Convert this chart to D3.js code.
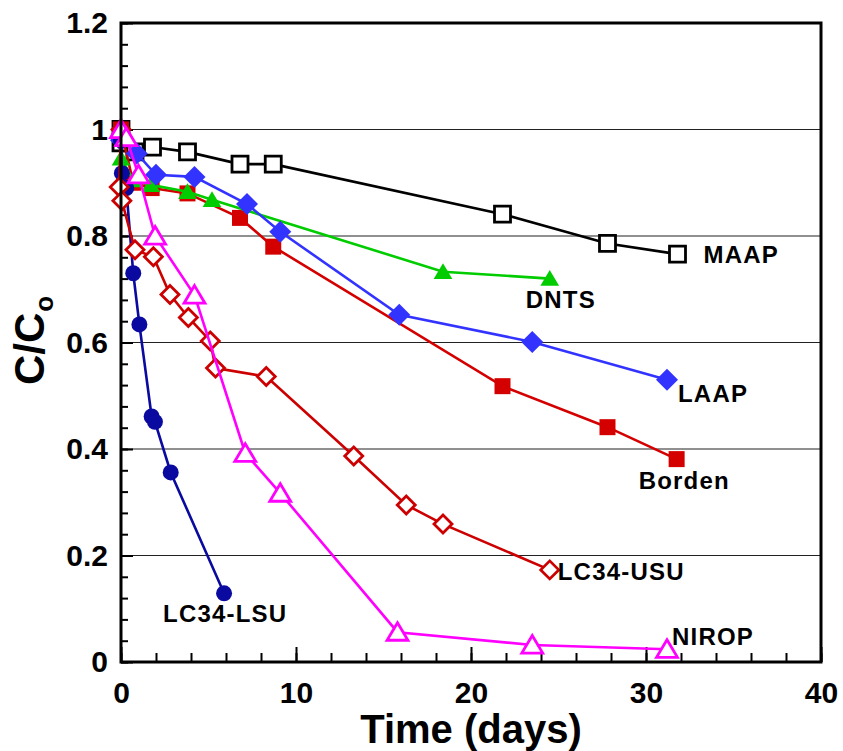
<!DOCTYPE html>
<html>
<head>
<meta charset="utf-8">
<title>C/Co vs time</title>
<script src="https://d3js.org/d3.v7.min.js"></script>
<style>
  body { margin: 0; background: #fff; }
  svg text { font-family: "Liberation Sans", Arial, sans-serif; font-weight: bold; }
  .tick-label { font-size: 30px; }
  .series-label { font-size: 24px; letter-spacing: 1.2px; }
</style>
</head>
<body>
<div id="chart"></div>
<script>
// ---- data (time in days, C/Co) ----
var maapT   = [0, 0, 0.8, 1.8, 3.8, 6.8, 8.7, 21.8, 27.8, 31.8];
var maapC   = [1.0, 0.975, 0.958, 0.967, 0.958, 0.935, 0.935, 0.841, 0.786, 0.766];

var bordenT = [0, 0.7, 1.75, 3.8, 6.8, 8.7, 21.8, 27.8, 31.75];
var bordenC = [1.0, 0.90, 0.890, 0.880, 0.834, 0.780, 0.518, 0.441, 0.381];

var dntsT   = [0, 0.7, 1.7, 3.8, 5.2, 18.4, 24.5];
var dntsC   = [0.946, 0.905, 0.896, 0.883, 0.868, 0.733, 0.720];

var laapT   = [0, 0.9, 2.0, 4.2, 7.2, 9.1, 15.9, 23.5, 31.2];
var laapC   = [0.98, 0.955, 0.915, 0.911, 0.860, 0.808, 0.652, 0.601, 0.530];

var lsuT    = [0, 0.05, 0.3, 0.7, 1.05, 1.75, 1.94, 2.84, 5.89];
var lsuC    = [0.98, 0.918, 0.890, 0.730, 0.634, 0.461, 0.451, 0.356, 0.129];

var usuT    = [0, -0.1, 0.05, 0.8, 1.85, 2.8, 3.85, 5.1, 5.4, 8.3, 13.3, 16.3, 18.4, 24.5];
var usuC    = [1.0, 0.892, 0.866, 0.774, 0.761, 0.690, 0.647, 0.603, 0.552, 0.536, 0.387, 0.295, 0.259, 0.173];

var niropT  = [0, 0.3, 1.0, 1.95, 4.2, 7.1, 9.1, 15.8, 23.5, 31.2];
var niropC  = [1.0, 0.985, 0.915, 0.800, 0.689, 0.392, 0.317, 0.056, 0.032, 0.024];

var xTicks = [0, 10, 20, 30, 40];
var yTicks = [0, 0.2, 0.4, 0.6, 0.8, 1, 1.2];
var gridY  = [0.2, 0.4, 0.6, 0.8, 1.0];

// series styling and label placement (pixel offsets from last point)
var seriesList = [
  {name: "MAAP",     t: maapT,   c: maapC,   color: "#000000", shape: "square",   fill: false, dx: 26,  dy: 9},
  {name: "Borden",   t: bordenT, c: bordenC, color: "#d40000", shape: "square",   fill: true,  dx: -38, dy: 30},
  {name: "DNTS",     t: dntsT,   c: dntsC,   color: "#00cc00", shape: "triangle", fill: true,  dx: -24, dy: 29},
  {name: "LAAP",     t: laapT,   c: laapC,   color: "#3333ff", shape: "diamond",  fill: true,  dx: 11,  dy: 22},
  {name: "LC34-LSU", t: lsuT,    c: lsuC,    color: "#0a0aa0", shape: "circle",   fill: true,  dx: -61, dy: 29},
  {name: "LC34-USU", t: usuT,    c: usuC,    color: "#cc0000", shape: "diamond",  fill: false, dx: 8,   dy: 10},
  {name: "NIROP",    t: niropT,  c: niropC,  color: "#ff00ff", shape: "triangle", fill: false, dx: 5,   dy: -4}
];

var W = 843, H = 751;
var margin = {top: 23, right: 22, bottom: 89, left: 121};
var width = W - margin.left - margin.right,
    height = H - margin.top - margin.bottom;

var x = d3.scaleLinear().domain([0, 40]).range([0, width]);
var y = d3.scaleLinear().domain([0, 1.2]).range([height, 0]);

var svg = d3.select("#chart").append("svg")
  .attr("width", W)
  .attr("height", H)
  .append("g")
  .attr("transform", "translate(" + margin.left + "," + margin.top + ")");

// grid lines
svg.append("g").selectAll("line")
  .data(gridY)
  .enter().append("line")
  .attr("x1", 0).attr("x2", width)
  .attr("y1", function(d) { return y(d); })
  .attr("y2", function(d) { return y(d); })
  .attr("stroke", "#222")
  .attr("stroke-width", 1.2);

// axes with inward ticks
var xAxis = d3.axisBottom(x).tickValues(xTicks).tickSize(-15).tickPadding(20)
  .tickFormat(d3.format("d"));
var xMinor = d3.axisBottom(x).tickValues(d3.range(0, 41, 2)).tickSize(-9).tickFormat("");
var yAxis = d3.axisLeft(y).tickValues(yTicks).tickSize(-12).tickPadding(13)
  .tickFormat(function(d) { return d3.format("~g")(d); });
var yMinor = d3.axisLeft(y).tickValues(d3.range(0, 31).map(function(i) { return i * 0.04; })).tickSize(-7).tickFormat("");

function styleAxis(g) {
  g.select(".domain").remove();
  g.selectAll("line").attr("stroke", "#000").attr("stroke-width", 2);
  g.selectAll("text").attr("class", "tick-label").attr("fill", "#000");
}

svg.append("g").attr("transform", "translate(0," + height + ")").call(xMinor).call(styleAxis);
svg.append("g").attr("transform", "translate(0," + height + ")").call(xAxis).call(styleAxis);
svg.append("g").call(yMinor).call(styleAxis);
svg.append("g").call(yAxis).call(styleAxis);

// marker paths
function markerPath(shape) {
  if (shape === "square") return function(s) { var h = s / 2; return "M" + -h + "," + -h + "H" + h + "V" + h + "H" + -h + "Z"; };
  if (shape === "diamond") return function(s) { var h = s / 2; return "M0," + -h + "L" + h + ",0L0," + h + "L" + -h + ",0Z"; };
  if (shape === "triangle") return function(s) { var h = s / 2; return "M0," + (-h) + "L" + (h * 1.1) + "," + (h * 0.85) + "L" + (-h * 1.1) + "," + (h * 0.85) + "Z"; };
  return function(s) { var r = s / 2; return "M" + r + ",0A" + r + "," + r + " 0 1,1 " + -r + ",0A" + r + "," + r + " 0 1,1 " + r + ",0Z"; };
}

var line = d3.line()
  .x(function(d) { return x(d[0]); })
  .y(function(d) { return y(d[1]); });

seriesList.forEach(function(s) {
  var pts = d3.zip(s.t, s.c);
  var g = svg.append("g");
  g.append("path")
    .datum(pts)
    .attr("d", line)
    .attr("fill", "none")
    .attr("stroke", s.color)
    .attr("stroke-width", 2.6);

  var size = s.shape === "diamond" ? (s.fill ? 22 : 18)
           : s.shape === "square" ? (s.fill ? 16 : 16)
           : s.shape === "triangle" ? (s.fill ? 17 : 19) : 16;
  var mp = markerPath(s.shape);
  g.selectAll(".m")
    .data(pts)
    .enter().append("path")
    .attr("transform", function(d) { return "translate(" + x(d[0]) + "," + y(d[1]) + ")"; })
    .attr("d", mp(size))
    .attr("fill", s.fill ? s.color : "#fff")
    .attr("stroke", s.color)
    .attr("stroke-width", s.fill ? 0 : 2.8);

  var last = pts[pts.length - 1];
  svg.append("text")
    .attr("class", "series-label")
    .attr("x", x(last[0]) + s.dx)
    .attr("y", y(last[1]) + s.dy)
    .attr("fill", "#000")
    .text(s.name);
});

// frame
svg.append("rect")
  .attr("width", width).attr("height", height)
  .attr("fill", "none").attr("stroke", "#000").attr("stroke-width", 3);

// axis titles
svg.append("text")
  .attr("x", width / 2)
  .attr("y", height + 81)
  .attr("text-anchor", "middle")
  .style("font-size", "40px")
  .text("Time (days)");

var yt = svg.append("text")
  .attr("transform", "translate(" + (-77) + "," + (height / 2 - 2) + ") rotate(-90)")
  .attr("text-anchor", "middle")
  .style("font-size", "42px");
yt.append("tspan").text("C/C");
yt.append("tspan").attr("dy", 9).attr("dx", 1).style("font-size", "26px").text("o");
</script>
</body>
</html>
